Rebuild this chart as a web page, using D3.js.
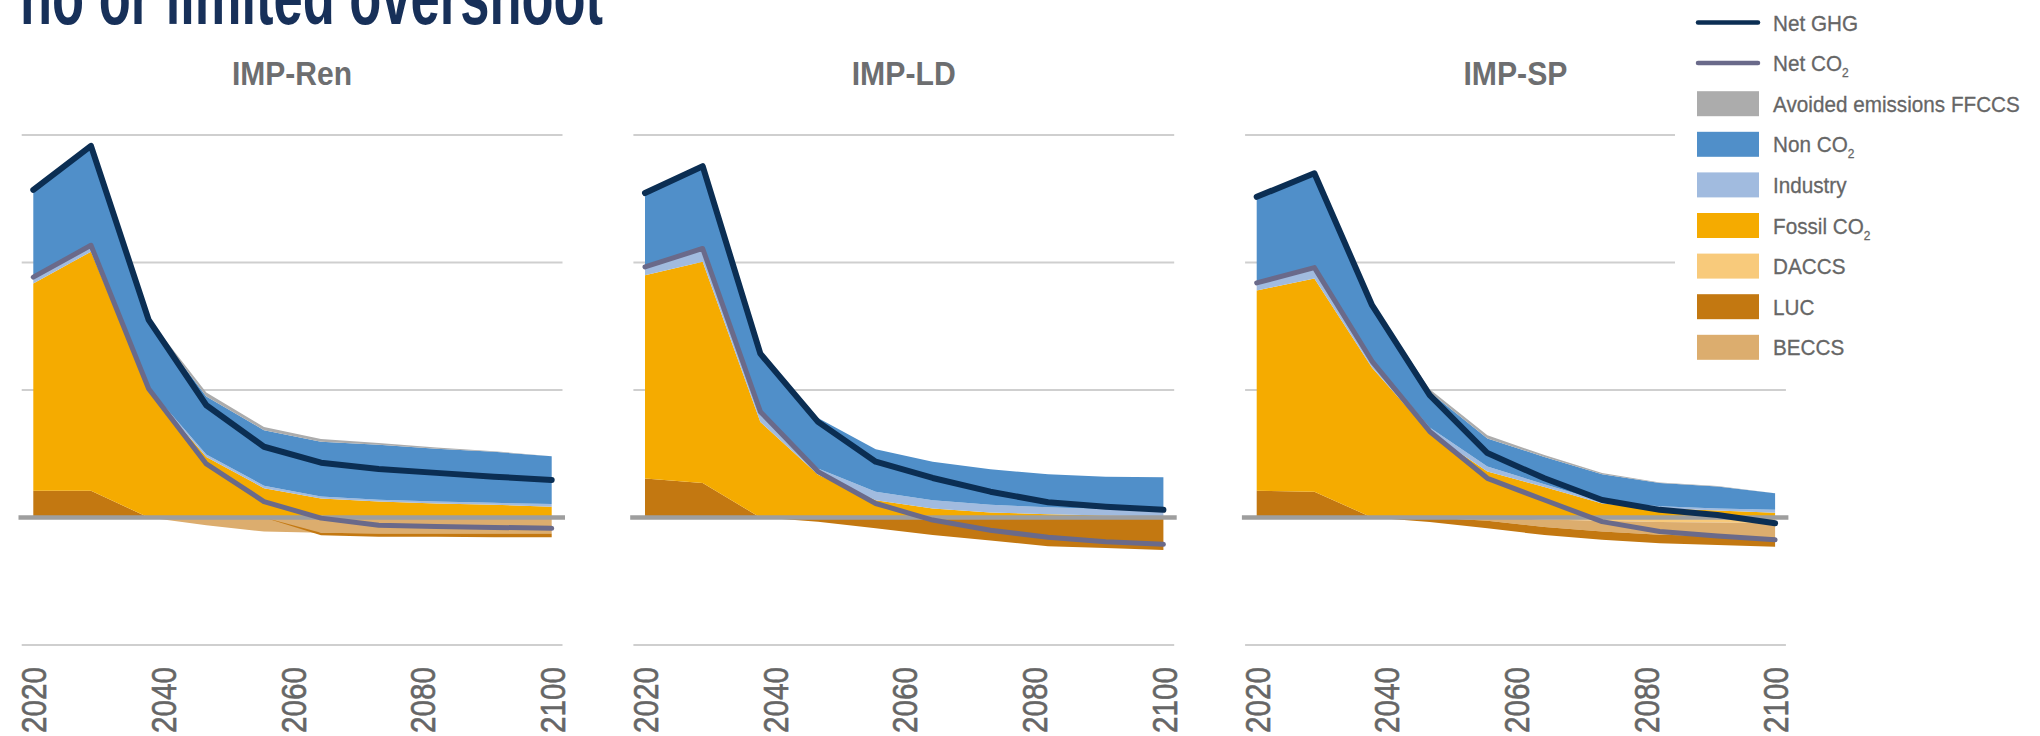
<!DOCTYPE html>
<html>
<head>
<meta charset="utf-8">
<script src="https://cdn.jsdelivr.net/npm/d3@7"></script>
<style>
  body { margin: 0; background: #fff; }
  svg { display: block; font-family: "Liberation Sans", Arial, sans-serif; }
</style>
</head>
<body>
<div id="chart"></div>
<script>
// sample years (10 evenly spaced model steps)
const years = [2020, 2028.9, 2037.8, 2046.7, 2055.6, 2064.4, 2073.3, 2082.2, 2091.1, 2100];
const tickYears = [2020, 2040, 2060, 2080, 2100];
const gridValues = [-20, 20, 40, 60];

// IMP-Ren
const ren_LUC      = [4.2, 4.2, 0, 0, 0, -0.4, -0.5, -0.5, -0.6, -0.6];
const ren_fossil   = [32.5, 37.5, 20.0, 9.5, 4.6, 3.0, 2.5, 2.2, 2.0, 1.7];
const ren_industry = [1.0, 1.0, 0.3, 0.4, 0.4, 0.3, 0.3, 0.3, 0.3, 0.4];
const ren_nonCO2   = [13.7, 15.6, 10.7, 9.1, 8.7, 8.6, 8.6, 8.3, 8.0, 7.5];
const ren_ffccs    = [0, 0, 0.2, 0.6, 0.5, 0.4, 0.3, 0.2, 0.1, 0];
const ren_daccs    = [0, 0, 0, 0, 0, 0, 0, 0, 0, 0];
const ren_beccs    = [0, 0, 0, -1.2, -2.2, -2.4, -2.5, -2.5, -2.5, -2.5];
const ren_netGHG   = [51.4, 58.3, 31.0, 17.6, 11.1, 8.6, 7.6, 7.0, 6.4, 5.9];
const ren_netCO2   = [37.7, 42.7, 20.2, 8.4, 2.5, -0.1, -1.2, -1.4, -1.55, -1.7];

// IMP-LD
const ld_LUC      = [6.1, 5.4, 0, -0.65, -1.7, -2.75, -3.6, -4.5, -4.8, -5.1];
const ld_fossil   = [31.9, 34.7, 15.0, 6.7, 2.7, 1.4, 0.8, 0.5, 0.3, 0.15];
const ld_industry = [1.3, 2.0, 1.5, 1.0, 1.35, 1.3, 1.2, 1.1, 1.0, 0.85];
const ld_nonCO2   = [11.6, 12.9, 9.5, 7.9, 6.65, 6.05, 5.55, 5.2, 5.1, 5.3];
const ld_ffccs    = [0, 0, 0, 0, 0, 0, 0, 0, 0, 0];
const ld_daccs    = [0, 0, 0, 0, 0, 0, 0, 0, 0, 0];
const ld_beccs    = [0, 0, 0, 0, 0, 0, 0, 0, 0, 0];
const ld_netGHG   = [50.9, 55.1, 25.7, 15.0, 8.75, 6.2, 4.05, 2.4, 1.7, 1.2];
const ld_netCO2   = [39.3, 42.2, 16.6, 7.2, 2.2, -0.4, -2.0, -3.1, -3.8, -4.2];

// IMP-SP
const sp_LUC      = [4.2, 4.05, 0, -0.7, -1.2, -1.25, -1.3, -1.35, -1.4, -1.5];
const sp_fossil   = [31.4, 33.45, 23.5, 13.3, 7.2, 4.8, 2.2, 1.45, 1.1, 0.75];
const sp_industry = [1.2, 1.7, 1.2, 0.8, 0.8, 0.4, 0.3, 0.3, 0.3, 0.45];
const sp_nonCO2   = [13.5, 14.8, 8.6, 5.6, 4.4, 4.3, 4.3, 3.65, 3.45, 2.6];
const sp_ffccs    = [0, 0, 0.3, 0.4, 0.5, 0.3, 0.2, 0.1, 0.1, 0];
const sp_daccs    = [0, 0, 0, 0, 0, -0.3, -0.5, -0.7, -0.8, -0.9];
const sp_beccs    = [0, 0, 0, 0, -0.5, -1.2, -1.7, -2.0, -2.1, -2.2];
const sp_netGHG   = [50.3, 54.0, 33.3, 19.2, 10.1, 6.15, 2.75, 1.2, 0.4, -0.9];
const sp_netCO2   = [36.8, 39.2, 24.5, 13.5, 6.15, 2.75, -0.65, -2.2, -2.9, -3.5];

const panels = [
  {name: "IMP-Ren", LUC: ren_LUC, fossil: ren_fossil, industry: ren_industry, nonCO2: ren_nonCO2,
   ffccs: ren_ffccs, daccs: ren_daccs, beccs: ren_beccs, netGHG: ren_netGHG, netCO2: ren_netCO2},
  {name: "IMP-LD", LUC: ld_LUC, fossil: ld_fossil, industry: ld_industry, nonCO2: ld_nonCO2,
   ffccs: ld_ffccs, daccs: ld_daccs, beccs: ld_beccs, netGHG: ld_netGHG, netCO2: ld_netCO2},
  {name: "IMP-SP", LUC: sp_LUC, fossil: sp_fossil, industry: sp_industry, nonCO2: sp_nonCO2,
   ffccs: sp_ffccs, daccs: sp_daccs, beccs: sp_beccs, netGHG: sp_netGHG, netCO2: sp_netCO2}
];

const color = {
  ffccs: "#acacac", nonCO2: "#508fc9", industry: "#a1bbdf", fossil: "#f5ab00",
  daccs: "#f8ca7b", LUC: "#c37811", beccs: "#dcad6e",
  netGHG: "#0b2e53", netCO2: "#6a6a8a"
};

const legendItems = [
  {label: "Net GHG", key: "netGHG", type: "line"},
  {label: "Net CO", sub: "2", key: "netCO2", type: "line"},
  {label: "Avoided emissions FFCCS", key: "ffccs"},
  {label: "Non CO", sub: "2", key: "nonCO2"},
  {label: "Industry", key: "industry"},
  {label: "Fossil CO", sub: "2", key: "fossil"},
  {label: "DACCS", key: "daccs"},
  {label: "LUC", key: "LUC"},
  {label: "BECCS", key: "beccs"}
];

const width = 2040, height = 736;
const panelStep = 611.7;

const svg = d3.select("#chart").append("svg")
  .attr("width", width).attr("height", height);

// scales shared by the three panels
const x = d3.scaleLinear().domain([2020, 2100]).range([33.3, 551.7]);
const y = d3.scaleLinear().domain([-20, 60]).range([645, 135]);

const posKeys = ["LUC", "fossil", "industry", "nonCO2", "ffccs"];
const negKeys = ["daccs", "beccs", "LUC"];

// main title (cut off at top of the picture, like the source crop)
svg.append("text")
  .attr("x", 20).attr("y", 24)
  .attr("textLength", 583).attr("lengthAdjust", "spacingAndGlyphs")
  .style("font-size", "80px").style("font-weight", "bold")
  .style("fill", "#173059")
  .text("no or limited overshoot");

panels.forEach((p, k) => {
  const g = svg.append("g").attr("transform", `translate(${k * panelStep},0)`);

  // rows for the stacks
  const rows = years.map((yr, i) => {
    const r = {year: yr};
    Object.keys(color).forEach(key => { if (p[key]) r[key] = p[key][i]; });
    return r;
  });

  // gridlines
  g.selectAll("line.grid")
    .data(gridValues)
    .join("line")
    .attr("class", "grid")
    .attr("x1", 21.7).attr("x2", 562.5)
    .attr("y1", d => y(d)).attr("y2", d => y(d))
    .attr("stroke", "#cfcfcf").attr("stroke-width", 2.2);

  const area = d3.area()
    .x((d, i) => x(years[i]))
    .y0(d => y(d[0]))
    .y1(d => y(d[1]));

  const posStack = d3.stack().keys(posKeys).value((d, key) => Math.max(0, d[key]))(rows);
  const negStack = d3.stack().keys(negKeys).value((d, key) => Math.min(0, d[key]))
    .offset(d3.stackOffsetDiverging)(rows);

  g.selectAll("path.neg")
    .data(negStack)
    .join("path")
    .attr("class", "neg")
    .attr("d", area)
    .attr("fill", d => color[d.key]);

  g.selectAll("path.pos")
    .data(posStack)
    .join("path")
    .attr("class", "pos")
    .attr("d", area)
    .attr("fill", d => color[d.key]);

  // zero line
  g.append("line")
    .attr("x1", 18.5).attr("x2", 565)
    .attr("y1", y(0)).attr("y2", y(0))
    .attr("stroke", "#9e9e9e").attr("stroke-width", 4.5);

  const line = d3.line()
    .x((d, i) => x(years[i]))
    .y(d => y(d));

  g.append("path")
    .attr("d", line(p.netCO2))
    .attr("fill", "none")
    .attr("stroke", color.netCO2).attr("stroke-width", 5)
    .attr("stroke-linecap", "round").attr("stroke-linejoin", "round");

  g.append("path")
    .attr("d", line(p.netGHG))
    .attr("fill", "none")
    .attr("stroke", color.netGHG).attr("stroke-width", 6)
    .attr("stroke-linecap", "round").attr("stroke-linejoin", "round");

  // panel title
  g.append("text")
    .attr("x", 292).attr("y", 85)
    .attr("text-anchor", "middle")
    .style("font-size", "34px").style("font-weight", "bold")
    .style("fill", "#6d6e70")
    .attr("textLength", k === 0 ? 120 : 104).attr("lengthAdjust", "spacingAndGlyphs")
    .text(p.name);

  // x axis labels, rotated
  const axis = g.append("g")
    .attr("transform", "translate(0,667)")
    .call(d3.axisBottom(x).tickValues(tickYears).tickSize(0).tickFormat(d3.format("d")));
  axis.select(".domain").remove();
  axis.selectAll("text")
    .attr("x", 0).attr("y", 0).attr("dy", "0.36em")
    .attr("transform", "rotate(-90)")
    .attr("textLength", 66).attr("lengthAdjust", "spacingAndGlyphs")
    .style("text-anchor", "end")
    .style("font-size", "35px")
    .style("font-family", "'Liberation Sans', Arial, sans-serif")
    .style("fill", "#666")
    .style("stroke", "#666").style("stroke-width", 0.6);
});

// legend with white background
const legend = svg.append("g");
legend.append("rect")
  .attr("x", 1675).attr("y", 0).attr("width", 365).attr("height", 372)
  .attr("fill", "#fff");

const rowY = i => 22.5 + i * 40.6;

legendItems.forEach((d, i) => {
  const cy = rowY(i);
  if (d.type === "line") {
    legend.append("line")
      .attr("x1", 1698).attr("x2", 1758)
      .attr("y1", cy).attr("y2", cy)
      .attr("stroke", color[d.key]).attr("stroke-width", 4.5)
      .attr("stroke-linecap", "round");
  } else {
    legend.append("rect")
      .attr("x", 1697).attr("y", cy - 12.5)
      .attr("width", 62).attr("height", 25)
      .attr("fill", color[d.key]);
  }
  const t = legend.append("text")
    .attr("transform", `translate(1773,${cy + 8}) scale(0.92,1)`)
    .style("font-size", "22.5px")
    .style("fill", "#666")
    .style("stroke", "#666").style("stroke-width", 0.3);
  t.append("tspan").text(d.label);
  if (d.sub) {
    t.append("tspan").attr("dy", 6).style("font-size", "13px").text(d.sub);
  }
});
</script>
</body>
</html>
